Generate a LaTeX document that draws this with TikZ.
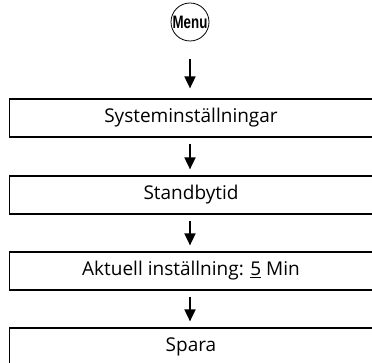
\documentclass[tikz,border=0pt]{standalone}
\usepackage{fontspec}
\setmainfont{Open Sans}
\newfontfamily\menufont{Liberation Sans}
\usetikzlibrary{arrows.meta}
\begin{document}
\begin{tikzpicture}[x=1pt,y=-1pt,
  stepbox/.style={draw,line width=1.2pt,rectangle,minimum width=363pt,minimum height=38pt,inner sep=0pt,font=\fontsize{19}{22}\selectfont},
  menubtn/.style={draw,line width=0.8pt,circle,minimum size=38pt,inner sep=0pt,font=\menufont\bfseries\fontsize{18}{20}\selectfont},
  arr/.style={line width=1.8pt,-{Triangle[width=11pt,length=12pt]}}]
\useasboundingbox (0,0) rectangle (372,363);
\node[menubtn] (menu) at (190,22) {\scalebox{0.74}[1]{Menu}};
\node[stepbox] (b1) at (191,118) {Systeminställningar};
\node[stepbox] (b2) at (191,195) {Standbytid};
\node[stepbox] (b3) at (191,271) {Aktuell inställning: \underline{5} Min};
\node[stepbox] (b4) at (191,347) {Spara};
\draw[arr,shorten <=18pt,shorten >=10pt] (menu.south) -- (menu.south |- b1.north);
\draw[arr,shorten <=6pt,shorten >=6pt] (b1.south -| menu.south) -- (b2.north -| menu.south);
\draw[arr,shorten <=6pt,shorten >=6pt] (b2.south -| menu.south) -- (b3.north -| menu.south);
\draw[arr,shorten <=6pt,shorten >=6pt] (b3.south -| menu.south) -- (b4.north -| menu.south);
\end{tikzpicture}
\end{document}
